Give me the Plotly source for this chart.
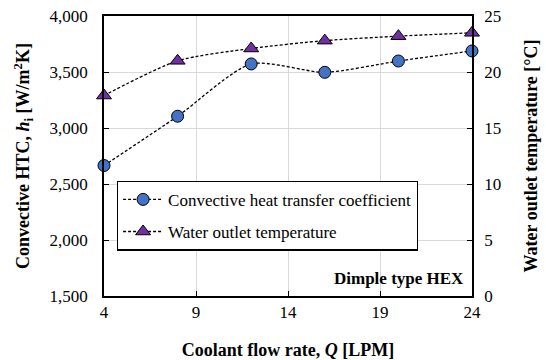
import plotly.graph_objects as go

flow_rate = [4, 8, 12, 16, 20, 24]
htc = [2665, 3105, 3572, 3497, 3598, 3688]
outlet_temp = [17.9, 21.0, 22.1, 22.8, 23.2, 23.5]
x_ticks = [4, 9, 14, 19, 24]

FONT = "Liberation Serif, Times New Roman, serif"

fig = go.Figure()
fig.add_trace(go.Scatter(
    x=flow_rate, y=htc, name="Convective heat transfer coefficient",
    mode="lines+markers", cliponaxis=False, legendgroup="a",
    line=dict(color="black", width=1.3, dash="3px,2px", shape="spline", smoothing=0.7),
    marker=dict(symbol="circle", size=12, color="#4472C4", line=dict(color="black", width=1)),
))
fig.add_trace(go.Scatter(
    x=flow_rate, y=outlet_temp, name="Water outlet temperature", yaxis="y2",
    mode="lines+markers", cliponaxis=False, legendgroup="b",
    line=dict(color="black", width=1.3, dash="3px,2px", shape="spline", smoothing=0.7),
    marker=dict(symbol="triangle-up", size=13, color="#7030A0", line=dict(color="black", width=1)),
))

fig.update_layout(
    width=546, height=360,
    margin=dict(l=104, r=74, t=16, b=64),
    paper_bgcolor="white", plot_bgcolor="white",
    font=dict(family=FONT, size=17, color="black"),
    showlegend=True,
    hovermode=False,
    legend=dict(x=0.035, y=0.412, xanchor="left", yanchor="top",
                bordercolor="black", borderwidth=1.2, bgcolor="white",
                traceorder="grouped", tracegroupgap=7, itemwidth=40,
                font=dict(family=FONT, size=17)),
    xaxis=dict(range=[4, 24], tickvals=x_ticks, showgrid=True, gridcolor="#d9d9d9",
               showline=True, linecolor="black", linewidth=1.5, mirror=True,
               ticks="inside", ticklen=5, tickcolor="black", zeroline=False,
               ticklabelstandoff=0, automargin=False,
               title=dict(text="<b>Coolant flow rate, <i>Q</i> [LPM]</b>", font=dict(size=18), standoff=24)),
    yaxis=dict(range=[1500, 4000], dtick=500, tickformat=",", showgrid=True, gridcolor="#d9d9d9",
               showline=True, linecolor="black", linewidth=1.5,
               ticks="inside", ticklen=5, tickcolor="black", zeroline=False,
               ticklabelstandoff=11, automargin=False,
               title=dict(text="<b>Convective HTC, <i>h</i><sub>i</sub> [W/m<sup>2</sup>K]</b>", font=dict(size=18), standoff=15)),
    yaxis2=dict(range=[0, 25], dtick=5, overlaying="y", side="right", showgrid=False,
                showline=True, linecolor="black", linewidth=1.5,
                ticks="inside", ticklen=5, tickcolor="black", zeroline=False,
                ticklabelstandoff=7, automargin=False,
                title=dict(text="<b>Water outlet temperature [°C]</b>", font=dict(size=18), standoff=24)),
    annotations=[dict(text="<b>Dimple type HEX</b>", xref="paper", yref="paper", x=0.985, y=0.022,
                      xanchor="right", yanchor="bottom", showarrow=False, font=dict(family=FONT, size=17))],
)

fig.write_html("out.html", config={"displayModeBar": False},
               post_script="document.body.style.margin='0';")
